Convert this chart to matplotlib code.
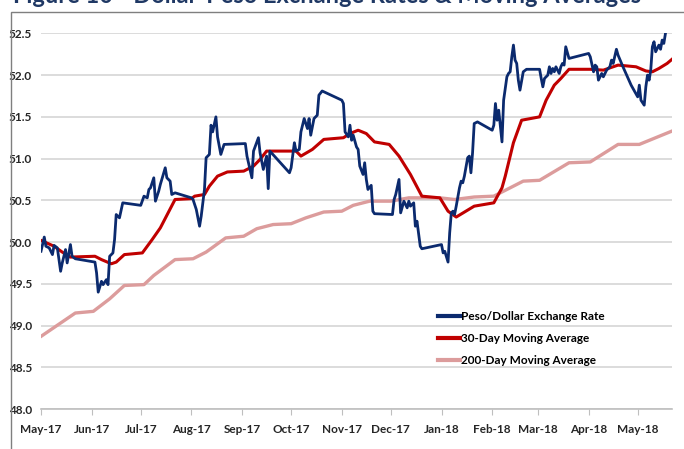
import numpy as np
import pandas as pd
import matplotlib
matplotlib.use("Agg")
import matplotlib.pyplot as plt
import matplotlib.dates as mdates
from matplotlib.patches import Rectangle

plt.rcParams['font.family'] = ['Lato', 'DejaVu Sans']

# days counted from 1 May 2017
start = pd.Timestamp('2017-05-01')

rate_day = [0, 2, 3, 5, 7, 8, 10, 12, 13, 15, 16, 18, 19, 21, 33, 34, 35, 37, 38, 40,
            41, 42, 44, 45, 46, 48, 50, 61, 63, 65, 66, 67, 69, 70, 72, 73, 76, 77, 79, 80,
            82, 92, 93, 95, 97, 98, 100, 101, 103, 104, 105, 107, 108, 110, 112, 125, 126, 129, 130, 133,
            134, 136, 138, 139, 140, 152, 153, 155, 156, 158, 159, 161, 163, 164, 165, 167, 169, 170, 172, 184,
            185, 186, 188, 189, 190, 191, 193, 194, 195, 197, 198, 199, 200, 202, 203, 204, 215, 216, 217, 219,
            220, 222, 224, 225, 226, 228, 229, 230, 232, 233, 245, 246, 247, 249, 250, 251, 252, 253, 254, 256,
            257, 258, 259, 261, 262, 263, 264, 265, 267, 276, 277, 278, 279, 280, 282, 283, 285, 286, 287, 288,
            289, 290, 291, 292, 293, 295, 297, 305, 306, 307, 308, 310, 311, 312, 313, 314, 315, 317, 318, 319,
            320, 321, 323, 335, 336, 338, 339, 340, 341, 343, 344, 346, 348, 349, 350, 352, 353, 356, 361, 365,
            366, 367, 369, 370, 371, 372, 373, 374, 375, 376, 378, 379, 380, 381, 382]
rate = [49.89, 50.06, 49.95, 49.93, 49.85, 49.96, 49.93, 49.65, 49.75, 49.91, 49.75, 49.97, 49.83, 49.80, 49.76, 49.63, 49.40, 49.53, 49.49, 49.55,
        49.49, 49.83, 49.87, 50.03, 50.33, 50.29, 50.47, 50.44, 50.55, 50.53, 50.63, 50.65, 50.77, 50.49, 50.61, 50.69, 50.89, 50.77, 50.73, 50.57,
        50.59, 50.53, 50.51, 50.39, 50.19, 50.31, 50.63, 51.01, 51.05, 51.40, 51.32, 51.50, 51.26, 51.05, 51.17, 51.18, 51.03, 50.77, 51.09, 51.25,
        51.07, 50.87, 51.03, 50.64, 51.09, 50.83, 50.89, 51.19, 51.09, 51.11, 51.32, 51.48, 51.36, 51.48, 51.28, 51.48, 51.52, 51.76, 51.81, 51.70,
        51.66, 51.32, 51.26, 51.40, 51.22, 51.28, 51.14, 51.11, 50.91, 50.81, 50.95, 50.75, 50.63, 50.68, 50.37, 50.34, 50.33, 50.51, 50.57, 50.75,
        50.35, 50.49, 50.41, 50.49, 50.43, 50.47, 50.19, 50.25, 49.95, 49.92, 49.97, 49.87, 49.89, 49.76, 50.11, 50.35, 50.37, 50.33, 50.43, 50.65,
        50.73, 50.71, 50.79, 51.01, 51.03, 50.83, 51.07, 51.42, 51.44, 51.34, 51.40, 51.66, 51.46, 51.58, 51.20, 51.70, 51.98, 52.02, 52.04, 52.22,
        52.36, 52.18, 52.14, 51.94, 51.82, 52.04, 52.07, 52.07, 51.96, 51.86, 51.96, 52.00, 52.10, 52.02, 52.08, 52.04, 52.10, 52.02, 52.10, 52.14,
        52.12, 52.34, 52.20, 52.26, 52.22, 52.04, 52.12, 52.10, 51.94, 52.02, 51.98, 52.06, 52.10, 52.18, 52.14, 52.31, 52.24, 52.10, 51.88, 51.74,
        51.88, 51.70, 51.64, 51.86, 52.00, 51.94, 52.06, 52.34, 52.40, 52.28, 52.36, 52.31, 52.42, 52.38, 52.50]

ma30_day = [0, 8, 13, 18, 33, 37, 43, 46, 51, 62, 68, 73, 82, 92, 94, 100, 103, 108, 114, 124,
            130, 134, 138, 156, 159, 166, 173, 185, 189, 194, 199, 204, 213, 219, 226, 233, 244, 249, 254, 265,
            277, 282, 284, 289, 294, 305, 309, 314, 318, 323, 336, 344, 353, 364, 370, 374, 378, 383, 386]
ma30 = [50.02, 49.95, 49.88, 49.82, 49.83, 49.79, 49.74, 49.76, 49.85, 49.87, 50.03, 50.17, 50.51, 50.52, 50.55, 50.57, 50.67, 50.79, 50.84, 50.85,
        50.91, 50.99, 51.09, 51.09, 51.03, 51.11, 51.23, 51.25, 51.30, 51.34, 51.30, 51.20, 51.17, 51.03, 50.81, 50.55, 50.53, 50.37, 50.30, 50.43,
        50.47, 50.65, 50.79, 51.19, 51.46, 51.50, 51.70, 51.88, 51.96, 52.07, 52.07, 52.06, 52.12, 52.10, 52.05, 52.04, 52.08, 52.14, 52.19]

ma200_day = [0, 21, 32, 42, 51, 63, 69, 82, 93, 101, 113, 124, 132, 142, 153, 162, 173, 184, 191, 201,
             214, 225, 244, 253, 265, 277, 281, 287, 295, 305, 323, 336, 353, 366, 386]
ma200 = [48.87, 49.15, 49.17, 49.32, 49.48, 49.49, 49.60, 49.79, 49.80, 49.88, 50.05, 50.07, 50.16, 50.21, 50.22, 50.29, 50.36, 50.37, 50.44, 50.49,
         50.49, 50.53, 50.53, 50.51, 50.54, 50.55, 50.59, 50.65, 50.73, 50.74, 50.95, 50.96, 51.17, 51.17, 51.33]

series_labels = ['Peso/Dollar Exchange Rate', '30-Day Moving Average', '200-Day Moving Average']
y_ticks = [48.0, 48.5, 49.0, 49.5, 50.0, 50.5, 51.0, 51.5, 52.0, 52.5]
title = 'Figure 10 - Dollar-Peso Exchange Rates & Moving Averages'


def to_dates(days):
    return start + pd.to_timedelta(days, unit='D')


fig = plt.figure(figsize=(6.84, 4.49), dpi=100)
ax = fig.add_axes([41 / 684, 1 - 409 / 449, 631 / 684, (409 - 33.4) / 449])

# title is cut off by the top edge, as in the source page
t = fig.text(13 / 684, 1 - 3 / 449, title, fontsize=15, fontweight='bold', color='#1f3864',
             va='baseline', ha='left')
fig.canvas.draw()
w = t.get_window_extent().width
t.set_fontsize(15 * 631 / w)

fig.patches.append(Rectangle((11 / 684, -0.1), 1.2, 1 - 12 / 449 + 0.1, transform=fig.transFigure,
                             fill=False, edgecolor='#7f7f7f', linewidth=1.0))

ax.plot(to_dates(ma200_day), ma200, color='#dc9c9c', linewidth=2.4, label=series_labels[2], zorder=3)
ax.plot(to_dates(ma30_day), ma30, color='#c00000', linewidth=2.2, label=series_labels[1], zorder=4)
ax.plot(to_dates(rate_day), rate, color='#0b2a6e', linewidth=2.0, label=series_labels[0], zorder=5)

ax.set_ylim(48.0, 52.5)
ax.set_xlim(start, start + pd.Timedelta(days=386))
ax.set_yticks(y_ticks)
ax.set_yticklabels(['%.1f' % v for v in y_ticks])
ax.yaxis.grid(True, color='#d9d9d9', linewidth=1.3)
ax.set_axisbelow(True)

ax.xaxis.set_major_locator(mdates.MonthLocator())
ax.xaxis.set_major_formatter(mdates.DateFormatter('%b-%y'))

for s in ['top', 'right', 'left']:
    ax.spines[s].set_visible(False)
ax.spines['bottom'].set_color('#bfbfbf')
ax.spines['bottom'].set_linewidth(1.2)
ax.tick_params(axis='y', length=0, pad=6.5, labelsize=8.5, labelcolor='#262626')
ax.tick_params(axis='x', length=4, color='#bfbfbf', pad=7, labelsize=8.5, labelcolor='#262626')
for lab in ax.get_xticklabels() + ax.get_yticklabels():
    lab.set_fontweight('bold')

handles, labels = ax.get_legend_handles_labels()
order = [2, 1, 0]
leg = ax.legend([handles[i] for i in order], [labels[i] for i in order],
                loc='upper left', bbox_to_anchor=(438 / 684, 1 - 311 / 449),
                bbox_transform=fig.transFigure, frameon=False, borderpad=0, borderaxespad=0,
                handlelength=1.85, handletextpad=0.1, labelspacing=0.95,
                prop={'size': 8.5, 'weight': 'bold'})
for line in leg.get_lines():
    line.set_linewidth(3)

fig.savefig('out.png', dpi=100)
